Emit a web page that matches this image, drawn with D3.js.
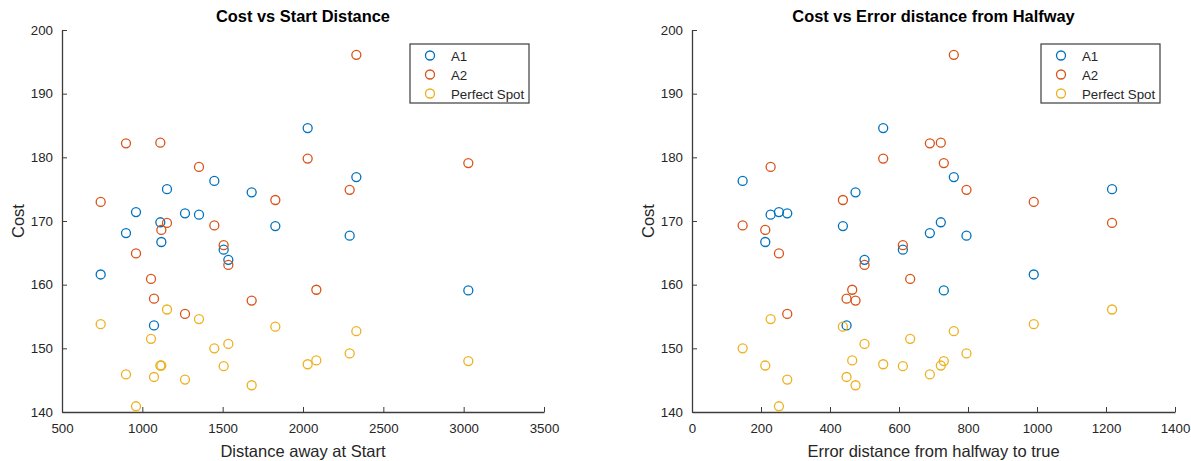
<!DOCTYPE html>
<html>
<head>
<meta charset="utf-8">
<script src="https://cdn.jsdelivr.net/npm/d3@7"></script>
<style>
  body { margin: 0; background: #fff; }
  svg { font-family: "Liberation Sans", Arial, sans-serif; }
</style>
</head>
<body>
<svg id="chart" width="1191" height="461"></svg>
<script>
// Per-participant measurements (20 participants; A1 missing for two of them)
const startDistance = [740.7, 898.3, 960.6, 1054, 1072.6, 1112, 1118.3, 1153.5, 1265.6, 1352.7,
                       1448.1, 1506.2, 1535.3, 1680.5, 1827.8, 2029, 2083, 2290.5, 2332, 3029];
const halfwayError  = [990.6, 689.4, 252, 632.4, 448, 721.2, 212.4, 1217.5, 276.1, 227.9,
                       146.8, 611.2, 500.1, 474, 437.4, 554.2, 464.4, 795.6, 758.9, 729.9];
const costA1      = [161.6, 168.1, 171.4, null, 153.6, 169.8, 166.7, 175.0, 171.2, 171.0,
                     176.3, 165.5, 163.9, 174.5, 169.2, 184.6, null, 167.7, 176.9, 159.1];
const costA2      = [173.0, 182.2, 164.9, 160.9, 157.8, 182.3, 168.6, 169.7, 155.4, 178.5,
                     169.3, 166.2, 163.1, 157.5, 173.3, 179.8, 159.2, 174.9, 196.1, 179.1];
const costPerfect = [153.8, 145.9, 140.9, 151.5, 145.5, 147.3, 147.3, 156.1, 145.1, 154.6,
                     150.0, 147.2, 150.7, 144.2, 153.4, 147.5, 148.1, 149.2, 152.7, 148.0];

const seriesNames = ["A1", "A2", "Perfect Spot"];
const seriesColors = ["#0072BD", "#D95319", "#EDB120"];
const costTicks = [140, 150, 160, 170, 180, 190, 200];
const startTicks = [500, 1000, 1500, 2000, 2500, 3000, 3500];
const errorTicks = [0, 200, 400, 600, 800, 1000, 1200, 1400];

const svg = d3.select("#chart");
const axisColor = "#262626";
const lineColor = "#3c3c3c";

function drawPanel(opts) {
  const { left, right, top, bottom, xs, xDomain, xTicks, title, xLabel } = opts;
  const x = d3.scaleLinear().domain(xDomain).range([left, right]);
  const y = d3.scaleLinear().domain([140, 200]).range([bottom, top]);
  const g = svg.append("g");

  // Axes with inward ticks
  const xAxis = d3.axisBottom(x).tickValues(xTicks).tickFormat(d3.format("d"))
    .tickSizeInner(-5).tickSizeOuter(0).tickPadding(12);
  const yAxis = d3.axisLeft(y).tickValues(costTicks).tickFormat(d3.format("d"))
    .tickSizeInner(-5).tickSizeOuter(0).tickPadding(9);

  const gx = g.append("g").attr("transform", `translate(0,${bottom})`).call(xAxis);
  const gy = g.append("g").attr("transform", `translate(${left},0)`).call(yAxis);
  [gx, gy].forEach(a => {
    a.select(".domain").attr("stroke", lineColor).attr("stroke-width", 1.3);
    a.selectAll(".tick line").attr("stroke", lineColor).attr("stroke-width", 1);
    a.selectAll(".tick text").attr("fill", axisColor).attr("font-size", 13.3)
      .attr("font-family", "Liberation Sans, Arial, sans-serif");
  });

  // Title and axis labels
  g.append("text").attr("x", (left + right) / 2).attr("y", 22)
    .attr("text-anchor", "middle").attr("font-size", 16.4).attr("font-weight", "bold")
    .attr("fill", "#000").text(title);
  g.append("text").attr("x", (left + right) / 2).attr("y", 457)
    .attr("text-anchor", "middle").attr("font-size", 16.5).attr("fill", axisColor).text(xLabel);
  g.append("text")
    .attr("transform", `translate(${left - 38},${(top + bottom) / 2}) rotate(-90)`)
    .attr("text-anchor", "middle").attr("font-size", 16.5).attr("fill", axisColor)
    .text("Cost");

  // Scatter markers
  const costs = [costA1, costA2, costPerfect];
  costs.forEach((vals, si) => {
    const pts = xs.map((v, i) => ({ x: v, y: vals[i] })).filter(d => d.y !== null);
    g.append("g").selectAll("circle").data(pts).join("circle")
      .attr("cx", d => x(d.x)).attr("cy", d => y(d.y)).attr("r", 4.5)
      .attr("fill", "none").attr("stroke", seriesColors[si]).attr("stroke-width", 1.3);
  });

  // Legend
  const lx = right - 134, ly = 44, lw = 119, lh = 59;
  const lg = g.append("g");
  lg.append("rect").attr("x", lx).attr("y", ly).attr("width", lw).attr("height", lh)
    .attr("fill", "#fff").attr("stroke", lineColor).attr("stroke-width", 1.2);
  seriesNames.forEach((name, i) => {
    const ry = ly + 11.5 + i * 19;
    lg.append("circle").attr("cx", lx + 20).attr("cy", ry).attr("r", 4.5)
      .attr("fill", "none").attr("stroke", seriesColors[i]).attr("stroke-width", 1.3);
    lg.append("text").attr("x", lx + 41).attr("y", ry + 5).attr("font-size", 13.3)
      .attr("fill", axisColor).text(name);
  });
}

drawPanel({ left: 62, right: 544, top: 30, bottom: 412, xs: startDistance,
  xDomain: [500, 3500], xTicks: startTicks,
  title: "Cost vs Start Distance", xLabel: "Distance away at Start" });

drawPanel({ left: 692, right: 1175, top: 30, bottom: 412, xs: halfwayError,
  xDomain: [0, 1400], xTicks: errorTicks,
  title: "Cost vs Error distance from Halfway", xLabel: "Error distance from halfway to true" });
</script>
</body>
</html>
